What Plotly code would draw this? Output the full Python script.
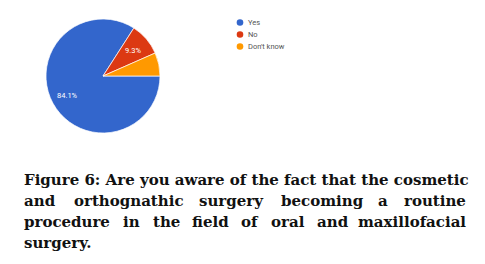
import math
import plotly.graph_objects as go

categories = ["Yes", "No", "Don't know"]
values = [84.1, 9.3, 6.6]
slice_labels = ["84.1%", "9.3%", ""]
colors = ["#3366cc", "#dc3912", "#ff9900"]

caption_lines = [
    "Figure 6: Are you aware of the fact that the cosmetic",
    "and orthognathic surgery becoming a routine",
    "procedure in the field of oral and maxillofacial",
    "surgery.",
]

OFF = 8            # page body margin
FW, FH = 485 - OFF, 264 - OFF


def px(x):
    return (x - OFF) / FW


def py(y):
    return 1 - (y - OFF) / FH


cx, cy, R = 103, 76, 57
fig = go.Figure()
fig.add_trace(go.Pie(
    labels=categories, values=values, textinfo="none",
    marker=dict(colors=colors, line=dict(color="white", width=0.7)),
    sort=False, direction="clockwise", rotation=90,
    domain=dict(x=[px(cx - R), px(cx + R)], y=[py(cy + R), py(cy - R)]),
    showlegend=False, hoverinfo="label+percent",
))

shapes = []
annotations = []

# slice labels at 0.7 r along each slice's mid angle (from the data)
total = sum(values)
start = 360.0  # math angle, clockwise from 3 o'clock
for v, lab in zip(values, slice_labels):
    sweep = 360.0 * v / total
    mid = math.radians(start - sweep / 2)
    start -= sweep
    if not lab:
        continue
    lx = cx + 0.7 * R * math.cos(mid)
    ly = cy - 0.7 * R * math.sin(mid)
    annotations.append(dict(text=lab, xref="paper", yref="paper", x=px(lx), y=py(ly),
                            xanchor="center", yanchor="middle", showarrow=False,
                            font=dict(size=7.5, color="white", family="Roboto")))

# compact legend
leg_x, leg_y0, leg_dy, r = 240, 22.5, 12, 3.3
for i, (cat, col) in enumerate(zip(categories, colors)):
    ey = leg_y0 + i * leg_dy
    shapes.append(dict(type="circle", xref="paper", yref="paper",
                       x0=px(leg_x - r), x1=px(leg_x + r),
                       y0=py(ey + r), y1=py(ey - r),
                       fillcolor=col, line=dict(width=0)))
    annotations.append(dict(text=cat, xref="paper", yref="paper",
                            x=px(leg_x + 6), y=py(ey),
                            xanchor="left", yanchor="middle", showarrow=False,
                            font=dict(size=7.5, color="#555555", family="Roboto")))

# justified caption, word by word
word_left = [
    None,
    [23, 73, 198, 280, 377, 405],
    [23, 122, 152, 191, 240, 270, 316, 360],
    None,
]
line_y = [180, 201, 222, 243]
cap_font = dict(family="DejaVu Serif", size=15, color="#111111")
for li, line in enumerate(caption_lines):
    y = py(line_y[li])
    if word_left[li] is None:
        annotations.append(dict(text="<b>" + line + "</b>", xref="paper", yref="paper",
                                x=px(22), y=y, xanchor="left", yanchor="middle",
                                showarrow=False, font=cap_font))
    else:
        words = line.split(" ")
        for wi, w in enumerate(words):
            if wi == len(words) - 1:
                annotations.append(dict(text="<b>" + w + "</b>", xref="paper", yref="paper",
                                        x=px(468), y=y, xanchor="right", yanchor="middle",
                                        showarrow=False, font=cap_font))
            else:
                annotations.append(dict(text="<b>" + w + "</b>", xref="paper", yref="paper",
                                        x=px(word_left[li][wi] - 1), y=y, xanchor="left",
                                        yanchor="middle", showarrow=False, font=cap_font))

fig.update_layout(width=FW, height=FH, margin=dict(l=0, r=0, t=0, b=0),
                  paper_bgcolor="white", plot_bgcolor="white",
                  shapes=shapes, annotations=annotations)
fig.write_html("out.html")
